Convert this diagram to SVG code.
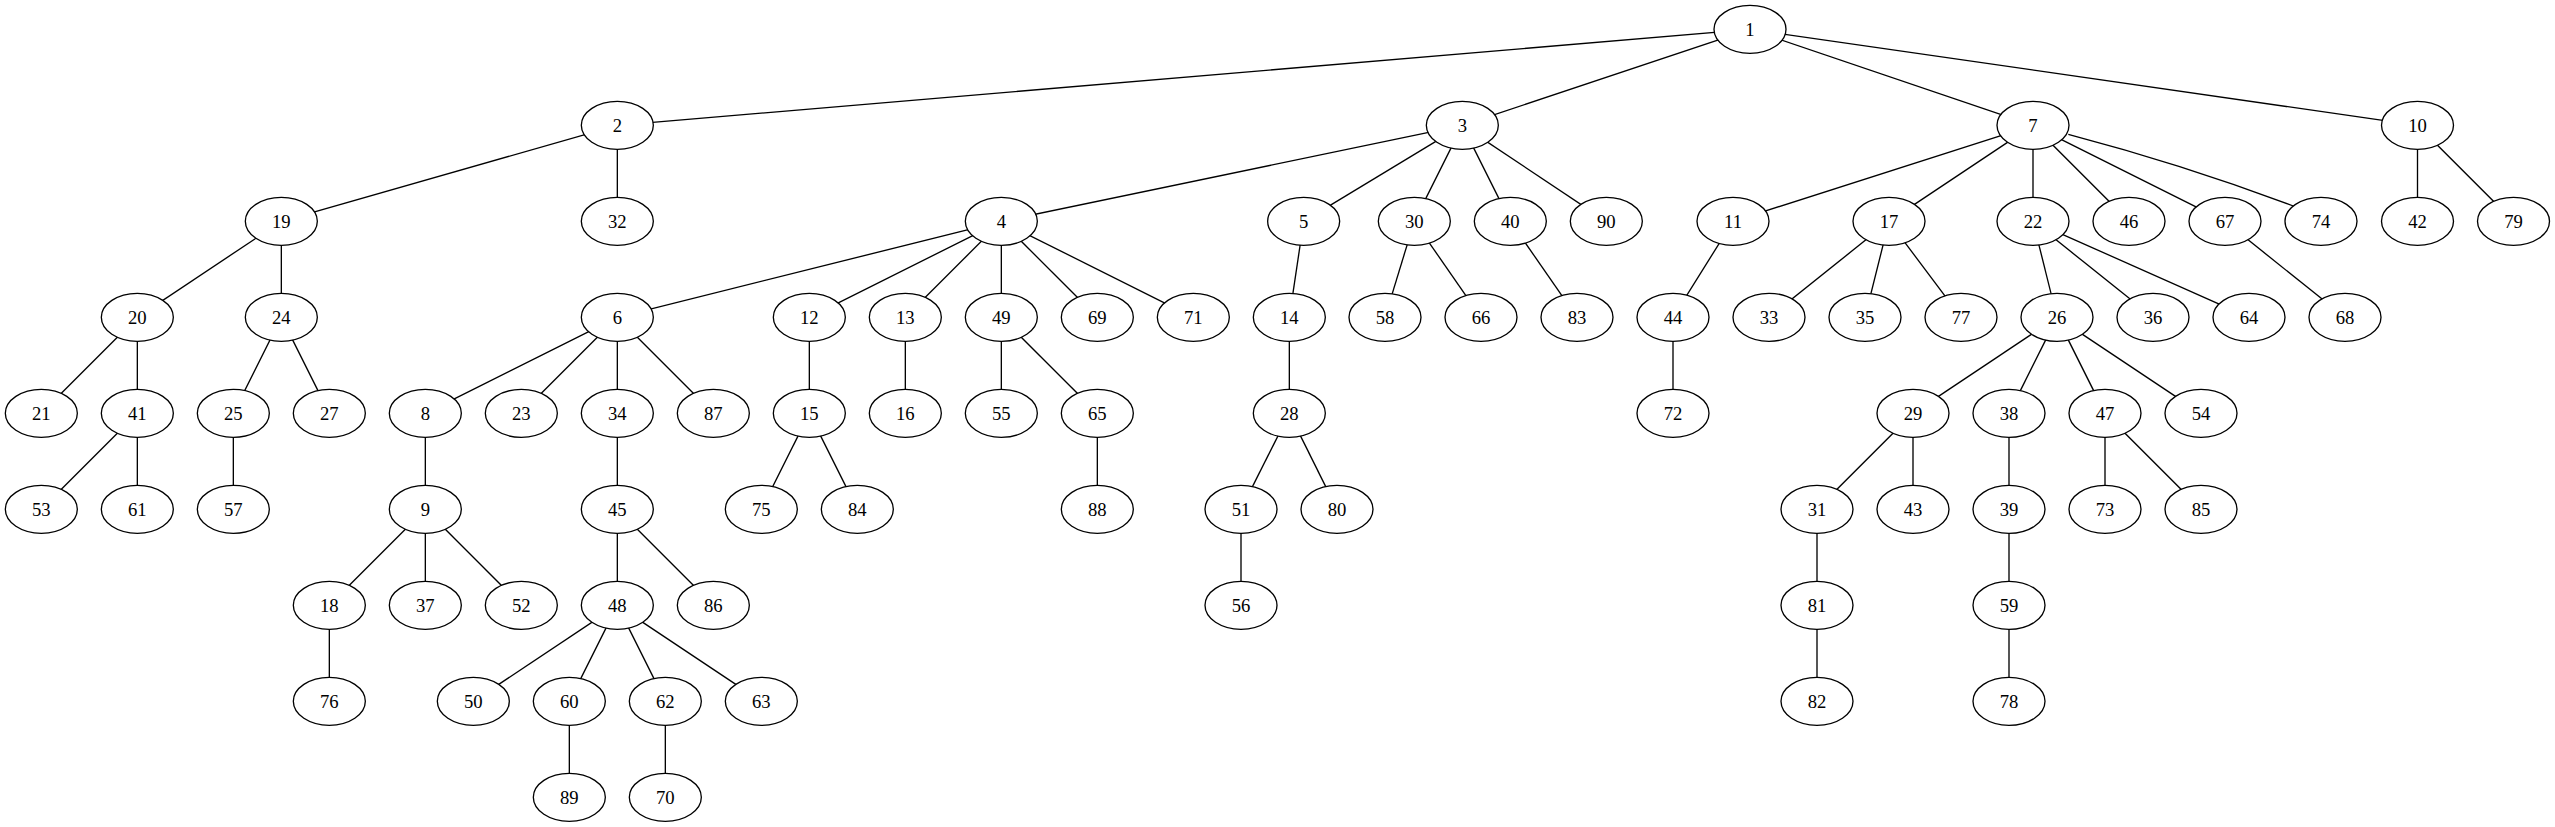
<svg xmlns="http://www.w3.org/2000/svg" width="2555" height="827" viewBox="0 0 2555 827">
<style>
ellipse{fill:#fff;stroke:#000;stroke-width:1.33}
text{font-family:"Liberation Serif","Times New Roman",serif;font-size:18.67px;text-anchor:middle;fill:#000}
#edges line,#edges path{stroke:#000;stroke-width:1.33;fill:none}
</style>
<rect width="2555" height="827" fill="#fff"/>
<g id="edges">
<line x1="1750" y1="29.33" x2="617.33" y2="125.33"/>
<line x1="1750" y1="29.33" x2="1462.33" y2="125.33"/>
<line x1="1750" y1="29.33" x2="2033" y2="125.33"/>
<line x1="1750" y1="29.33" x2="2417.5" y2="125.33"/>
<line x1="617.33" y1="125.33" x2="281.33" y2="221.33"/>
<line x1="617.33" y1="125.33" x2="617.33" y2="221.33"/>
<line x1="1462.33" y1="125.33" x2="1001.33" y2="221.33"/>
<line x1="1462.33" y1="125.33" x2="1303.67" y2="221.33"/>
<line x1="1462.33" y1="125.33" x2="1414.33" y2="221.33"/>
<line x1="1462.33" y1="125.33" x2="1510.33" y2="221.33"/>
<line x1="1462.33" y1="125.33" x2="1606.33" y2="221.33"/>
<line x1="2033" y1="125.33" x2="1733" y2="221.33"/>
<line x1="2033" y1="125.33" x2="1889" y2="221.33"/>
<line x1="2033" y1="125.33" x2="2033" y2="221.33"/>
<line x1="2033" y1="125.33" x2="2129" y2="221.33"/>
<line x1="2033" y1="125.33" x2="2225" y2="221.33"/>
<path d="M2068.3,134.3 Q2185,165 2293.3,206"/>
<line x1="2417.5" y1="125.33" x2="2417.5" y2="221.33"/>
<line x1="2417.5" y1="125.33" x2="2513.5" y2="221.33"/>
<line x1="281.33" y1="221.33" x2="137.33" y2="317.33"/>
<line x1="281.33" y1="221.33" x2="281.33" y2="317.33"/>
<line x1="1001.33" y1="221.33" x2="617.33" y2="317.33"/>
<line x1="1001.33" y1="221.33" x2="809.33" y2="317.33"/>
<line x1="1001.33" y1="221.33" x2="905.33" y2="317.33"/>
<line x1="1001.33" y1="221.33" x2="1001.33" y2="317.33"/>
<line x1="1001.33" y1="221.33" x2="1097.33" y2="317.33"/>
<line x1="1001.33" y1="221.33" x2="1193.33" y2="317.33"/>
<line x1="1303.67" y1="221.33" x2="1289.33" y2="317.33"/>
<line x1="1414.33" y1="221.33" x2="1385" y2="317.33"/>
<line x1="1414.33" y1="221.33" x2="1481" y2="317.33"/>
<line x1="1510.33" y1="221.33" x2="1577" y2="317.33"/>
<line x1="1733" y1="221.33" x2="1673" y2="317.33"/>
<line x1="1889" y1="221.33" x2="1769" y2="317.33"/>
<line x1="1889" y1="221.33" x2="1865" y2="317.33"/>
<line x1="1889" y1="221.33" x2="1961" y2="317.33"/>
<line x1="2033" y1="221.33" x2="2057" y2="317.33"/>
<line x1="2033" y1="221.33" x2="2153" y2="317.33"/>
<line x1="2033" y1="221.33" x2="2249" y2="317.33"/>
<line x1="2225" y1="221.33" x2="2345" y2="317.33"/>
<line x1="137.33" y1="317.33" x2="41.33" y2="413.33"/>
<line x1="137.33" y1="317.33" x2="137.33" y2="413.33"/>
<line x1="281.33" y1="317.33" x2="233.33" y2="413.33"/>
<line x1="281.33" y1="317.33" x2="329.33" y2="413.33"/>
<line x1="617.33" y1="317.33" x2="425.33" y2="413.33"/>
<line x1="617.33" y1="317.33" x2="521.33" y2="413.33"/>
<line x1="617.33" y1="317.33" x2="617.33" y2="413.33"/>
<line x1="617.33" y1="317.33" x2="713.33" y2="413.33"/>
<line x1="809.33" y1="317.33" x2="809.33" y2="413.33"/>
<line x1="905.33" y1="317.33" x2="905.33" y2="413.33"/>
<line x1="1001.33" y1="317.33" x2="1001.33" y2="413.33"/>
<line x1="1001.33" y1="317.33" x2="1097.33" y2="413.33"/>
<line x1="1289.33" y1="317.33" x2="1289.33" y2="413.33"/>
<line x1="1673" y1="317.33" x2="1673" y2="413.33"/>
<line x1="2057" y1="317.33" x2="1913" y2="413.33"/>
<line x1="2057" y1="317.33" x2="2009" y2="413.33"/>
<line x1="2057" y1="317.33" x2="2105" y2="413.33"/>
<line x1="2057" y1="317.33" x2="2201" y2="413.33"/>
<line x1="137.33" y1="413.33" x2="41.33" y2="509.33"/>
<line x1="137.33" y1="413.33" x2="137.33" y2="509.33"/>
<line x1="233.33" y1="413.33" x2="233.33" y2="509.33"/>
<line x1="425.33" y1="413.33" x2="425.33" y2="509.33"/>
<line x1="617.33" y1="413.33" x2="617.33" y2="509.33"/>
<line x1="809.33" y1="413.33" x2="761.33" y2="509.33"/>
<line x1="809.33" y1="413.33" x2="857.33" y2="509.33"/>
<line x1="1097.33" y1="413.33" x2="1097.33" y2="509.33"/>
<line x1="1289.33" y1="413.33" x2="1241" y2="509.33"/>
<line x1="1289.33" y1="413.33" x2="1337" y2="509.33"/>
<line x1="1913" y1="413.33" x2="1817" y2="509.33"/>
<line x1="1913" y1="413.33" x2="1913" y2="509.33"/>
<line x1="2009" y1="413.33" x2="2009" y2="509.33"/>
<line x1="2105" y1="413.33" x2="2105" y2="509.33"/>
<line x1="2105" y1="413.33" x2="2201" y2="509.33"/>
<line x1="425.33" y1="509.33" x2="329.33" y2="605.33"/>
<line x1="425.33" y1="509.33" x2="425.33" y2="605.33"/>
<line x1="425.33" y1="509.33" x2="521.33" y2="605.33"/>
<line x1="617.33" y1="509.33" x2="617.33" y2="605.33"/>
<line x1="617.33" y1="509.33" x2="713.33" y2="605.33"/>
<line x1="1241" y1="509.33" x2="1241" y2="605.33"/>
<line x1="1817" y1="509.33" x2="1817" y2="605.33"/>
<line x1="2009" y1="509.33" x2="2009" y2="605.33"/>
<line x1="329.33" y1="605.33" x2="329.33" y2="701.33"/>
<line x1="617.33" y1="605.33" x2="473.33" y2="701.33"/>
<line x1="617.33" y1="605.33" x2="569.33" y2="701.33"/>
<line x1="617.33" y1="605.33" x2="665.33" y2="701.33"/>
<line x1="617.33" y1="605.33" x2="761.33" y2="701.33"/>
<line x1="1817" y1="605.33" x2="1817" y2="701.33"/>
<line x1="2009" y1="605.33" x2="2009" y2="701.33"/>
<line x1="569.33" y1="701.33" x2="569.33" y2="797.33"/>
<line x1="665.33" y1="701.33" x2="665.33" y2="797.33"/>
</g>
<g id="n1"><ellipse cx="1750" cy="29.33" rx="36" ry="24"/><text x="1750" y="35.5">1</text></g>
<g id="n2"><ellipse cx="617.33" cy="125.33" rx="36" ry="24"/><text x="617.33" y="131.5">2</text></g>
<g id="n3"><ellipse cx="1462.33" cy="125.33" rx="36" ry="24"/><text x="1462.33" y="131.5">3</text></g>
<g id="n7"><ellipse cx="2033" cy="125.33" rx="36" ry="24"/><text x="2033" y="131.5">7</text></g>
<g id="n10"><ellipse cx="2417.5" cy="125.33" rx="36" ry="24"/><text x="2417.5" y="131.5">10</text></g>
<g id="n19"><ellipse cx="281.33" cy="221.33" rx="36" ry="24"/><text x="281.33" y="227.5">19</text></g>
<g id="n32"><ellipse cx="617.33" cy="221.33" rx="36" ry="24"/><text x="617.33" y="227.5">32</text></g>
<g id="n4"><ellipse cx="1001.33" cy="221.33" rx="36" ry="24"/><text x="1001.33" y="227.5">4</text></g>
<g id="n5"><ellipse cx="1303.67" cy="221.33" rx="36" ry="24"/><text x="1303.67" y="227.5">5</text></g>
<g id="n30"><ellipse cx="1414.33" cy="221.33" rx="36" ry="24"/><text x="1414.33" y="227.5">30</text></g>
<g id="n40"><ellipse cx="1510.33" cy="221.33" rx="36" ry="24"/><text x="1510.33" y="227.5">40</text></g>
<g id="n90"><ellipse cx="1606.33" cy="221.33" rx="36" ry="24"/><text x="1606.33" y="227.5">90</text></g>
<g id="n11"><ellipse cx="1733" cy="221.33" rx="36" ry="24"/><text x="1733" y="227.5">11</text></g>
<g id="n17"><ellipse cx="1889" cy="221.33" rx="36" ry="24"/><text x="1889" y="227.5">17</text></g>
<g id="n22"><ellipse cx="2033" cy="221.33" rx="36" ry="24"/><text x="2033" y="227.5">22</text></g>
<g id="n46"><ellipse cx="2129" cy="221.33" rx="36" ry="24"/><text x="2129" y="227.5">46</text></g>
<g id="n67"><ellipse cx="2225" cy="221.33" rx="36" ry="24"/><text x="2225" y="227.5">67</text></g>
<g id="n74"><ellipse cx="2321" cy="221.33" rx="36" ry="24"/><text x="2321" y="227.5">74</text></g>
<g id="n42"><ellipse cx="2417.5" cy="221.33" rx="36" ry="24"/><text x="2417.5" y="227.5">42</text></g>
<g id="n79"><ellipse cx="2513.5" cy="221.33" rx="36" ry="24"/><text x="2513.5" y="227.5">79</text></g>
<g id="n20"><ellipse cx="137.33" cy="317.33" rx="36" ry="24"/><text x="137.33" y="323.5">20</text></g>
<g id="n24"><ellipse cx="281.33" cy="317.33" rx="36" ry="24"/><text x="281.33" y="323.5">24</text></g>
<g id="n6"><ellipse cx="617.33" cy="317.33" rx="36" ry="24"/><text x="617.33" y="323.5">6</text></g>
<g id="n12"><ellipse cx="809.33" cy="317.33" rx="36" ry="24"/><text x="809.33" y="323.5">12</text></g>
<g id="n13"><ellipse cx="905.33" cy="317.33" rx="36" ry="24"/><text x="905.33" y="323.5">13</text></g>
<g id="n49"><ellipse cx="1001.33" cy="317.33" rx="36" ry="24"/><text x="1001.33" y="323.5">49</text></g>
<g id="n69"><ellipse cx="1097.33" cy="317.33" rx="36" ry="24"/><text x="1097.33" y="323.5">69</text></g>
<g id="n71"><ellipse cx="1193.33" cy="317.33" rx="36" ry="24"/><text x="1193.33" y="323.5">71</text></g>
<g id="n14"><ellipse cx="1289.33" cy="317.33" rx="36" ry="24"/><text x="1289.33" y="323.5">14</text></g>
<g id="n58"><ellipse cx="1385" cy="317.33" rx="36" ry="24"/><text x="1385" y="323.5">58</text></g>
<g id="n66"><ellipse cx="1481" cy="317.33" rx="36" ry="24"/><text x="1481" y="323.5">66</text></g>
<g id="n83"><ellipse cx="1577" cy="317.33" rx="36" ry="24"/><text x="1577" y="323.5">83</text></g>
<g id="n44"><ellipse cx="1673" cy="317.33" rx="36" ry="24"/><text x="1673" y="323.5">44</text></g>
<g id="n33"><ellipse cx="1769" cy="317.33" rx="36" ry="24"/><text x="1769" y="323.5">33</text></g>
<g id="n35"><ellipse cx="1865" cy="317.33" rx="36" ry="24"/><text x="1865" y="323.5">35</text></g>
<g id="n77"><ellipse cx="1961" cy="317.33" rx="36" ry="24"/><text x="1961" y="323.5">77</text></g>
<g id="n26"><ellipse cx="2057" cy="317.33" rx="36" ry="24"/><text x="2057" y="323.5">26</text></g>
<g id="n36"><ellipse cx="2153" cy="317.33" rx="36" ry="24"/><text x="2153" y="323.5">36</text></g>
<g id="n64"><ellipse cx="2249" cy="317.33" rx="36" ry="24"/><text x="2249" y="323.5">64</text></g>
<g id="n68"><ellipse cx="2345" cy="317.33" rx="36" ry="24"/><text x="2345" y="323.5">68</text></g>
<g id="n21"><ellipse cx="41.33" cy="413.33" rx="36" ry="24"/><text x="41.33" y="419.5">21</text></g>
<g id="n41"><ellipse cx="137.33" cy="413.33" rx="36" ry="24"/><text x="137.33" y="419.5">41</text></g>
<g id="n25"><ellipse cx="233.33" cy="413.33" rx="36" ry="24"/><text x="233.33" y="419.5">25</text></g>
<g id="n27"><ellipse cx="329.33" cy="413.33" rx="36" ry="24"/><text x="329.33" y="419.5">27</text></g>
<g id="n8"><ellipse cx="425.33" cy="413.33" rx="36" ry="24"/><text x="425.33" y="419.5">8</text></g>
<g id="n23"><ellipse cx="521.33" cy="413.33" rx="36" ry="24"/><text x="521.33" y="419.5">23</text></g>
<g id="n34"><ellipse cx="617.33" cy="413.33" rx="36" ry="24"/><text x="617.33" y="419.5">34</text></g>
<g id="n87"><ellipse cx="713.33" cy="413.33" rx="36" ry="24"/><text x="713.33" y="419.5">87</text></g>
<g id="n15"><ellipse cx="809.33" cy="413.33" rx="36" ry="24"/><text x="809.33" y="419.5">15</text></g>
<g id="n16"><ellipse cx="905.33" cy="413.33" rx="36" ry="24"/><text x="905.33" y="419.5">16</text></g>
<g id="n55"><ellipse cx="1001.33" cy="413.33" rx="36" ry="24"/><text x="1001.33" y="419.5">55</text></g>
<g id="n65"><ellipse cx="1097.33" cy="413.33" rx="36" ry="24"/><text x="1097.33" y="419.5">65</text></g>
<g id="n28"><ellipse cx="1289.33" cy="413.33" rx="36" ry="24"/><text x="1289.33" y="419.5">28</text></g>
<g id="n72"><ellipse cx="1673" cy="413.33" rx="36" ry="24"/><text x="1673" y="419.5">72</text></g>
<g id="n29"><ellipse cx="1913" cy="413.33" rx="36" ry="24"/><text x="1913" y="419.5">29</text></g>
<g id="n38"><ellipse cx="2009" cy="413.33" rx="36" ry="24"/><text x="2009" y="419.5">38</text></g>
<g id="n47"><ellipse cx="2105" cy="413.33" rx="36" ry="24"/><text x="2105" y="419.5">47</text></g>
<g id="n54"><ellipse cx="2201" cy="413.33" rx="36" ry="24"/><text x="2201" y="419.5">54</text></g>
<g id="n53"><ellipse cx="41.33" cy="509.33" rx="36" ry="24"/><text x="41.33" y="515.5">53</text></g>
<g id="n61"><ellipse cx="137.33" cy="509.33" rx="36" ry="24"/><text x="137.33" y="515.5">61</text></g>
<g id="n57"><ellipse cx="233.33" cy="509.33" rx="36" ry="24"/><text x="233.33" y="515.5">57</text></g>
<g id="n9"><ellipse cx="425.33" cy="509.33" rx="36" ry="24"/><text x="425.33" y="515.5">9</text></g>
<g id="n45"><ellipse cx="617.33" cy="509.33" rx="36" ry="24"/><text x="617.33" y="515.5">45</text></g>
<g id="n75"><ellipse cx="761.33" cy="509.33" rx="36" ry="24"/><text x="761.33" y="515.5">75</text></g>
<g id="n84"><ellipse cx="857.33" cy="509.33" rx="36" ry="24"/><text x="857.33" y="515.5">84</text></g>
<g id="n88"><ellipse cx="1097.33" cy="509.33" rx="36" ry="24"/><text x="1097.33" y="515.5">88</text></g>
<g id="n51"><ellipse cx="1241" cy="509.33" rx="36" ry="24"/><text x="1241" y="515.5">51</text></g>
<g id="n80"><ellipse cx="1337" cy="509.33" rx="36" ry="24"/><text x="1337" y="515.5">80</text></g>
<g id="n31"><ellipse cx="1817" cy="509.33" rx="36" ry="24"/><text x="1817" y="515.5">31</text></g>
<g id="n43"><ellipse cx="1913" cy="509.33" rx="36" ry="24"/><text x="1913" y="515.5">43</text></g>
<g id="n39"><ellipse cx="2009" cy="509.33" rx="36" ry="24"/><text x="2009" y="515.5">39</text></g>
<g id="n73"><ellipse cx="2105" cy="509.33" rx="36" ry="24"/><text x="2105" y="515.5">73</text></g>
<g id="n85"><ellipse cx="2201" cy="509.33" rx="36" ry="24"/><text x="2201" y="515.5">85</text></g>
<g id="n18"><ellipse cx="329.33" cy="605.33" rx="36" ry="24"/><text x="329.33" y="611.5">18</text></g>
<g id="n37"><ellipse cx="425.33" cy="605.33" rx="36" ry="24"/><text x="425.33" y="611.5">37</text></g>
<g id="n52"><ellipse cx="521.33" cy="605.33" rx="36" ry="24"/><text x="521.33" y="611.5">52</text></g>
<g id="n48"><ellipse cx="617.33" cy="605.33" rx="36" ry="24"/><text x="617.33" y="611.5">48</text></g>
<g id="n86"><ellipse cx="713.33" cy="605.33" rx="36" ry="24"/><text x="713.33" y="611.5">86</text></g>
<g id="n56"><ellipse cx="1241" cy="605.33" rx="36" ry="24"/><text x="1241" y="611.5">56</text></g>
<g id="n81"><ellipse cx="1817" cy="605.33" rx="36" ry="24"/><text x="1817" y="611.5">81</text></g>
<g id="n59"><ellipse cx="2009" cy="605.33" rx="36" ry="24"/><text x="2009" y="611.5">59</text></g>
<g id="n76"><ellipse cx="329.33" cy="701.33" rx="36" ry="24"/><text x="329.33" y="707.5">76</text></g>
<g id="n50"><ellipse cx="473.33" cy="701.33" rx="36" ry="24"/><text x="473.33" y="707.5">50</text></g>
<g id="n60"><ellipse cx="569.33" cy="701.33" rx="36" ry="24"/><text x="569.33" y="707.5">60</text></g>
<g id="n62"><ellipse cx="665.33" cy="701.33" rx="36" ry="24"/><text x="665.33" y="707.5">62</text></g>
<g id="n63"><ellipse cx="761.33" cy="701.33" rx="36" ry="24"/><text x="761.33" y="707.5">63</text></g>
<g id="n82"><ellipse cx="1817" cy="701.33" rx="36" ry="24"/><text x="1817" y="707.5">82</text></g>
<g id="n78"><ellipse cx="2009" cy="701.33" rx="36" ry="24"/><text x="2009" y="707.5">78</text></g>
<g id="n89"><ellipse cx="569.33" cy="797.33" rx="36" ry="24"/><text x="569.33" y="803.5">89</text></g>
<g id="n70"><ellipse cx="665.33" cy="797.33" rx="36" ry="24"/><text x="665.33" y="803.5">70</text></g>
</svg>
